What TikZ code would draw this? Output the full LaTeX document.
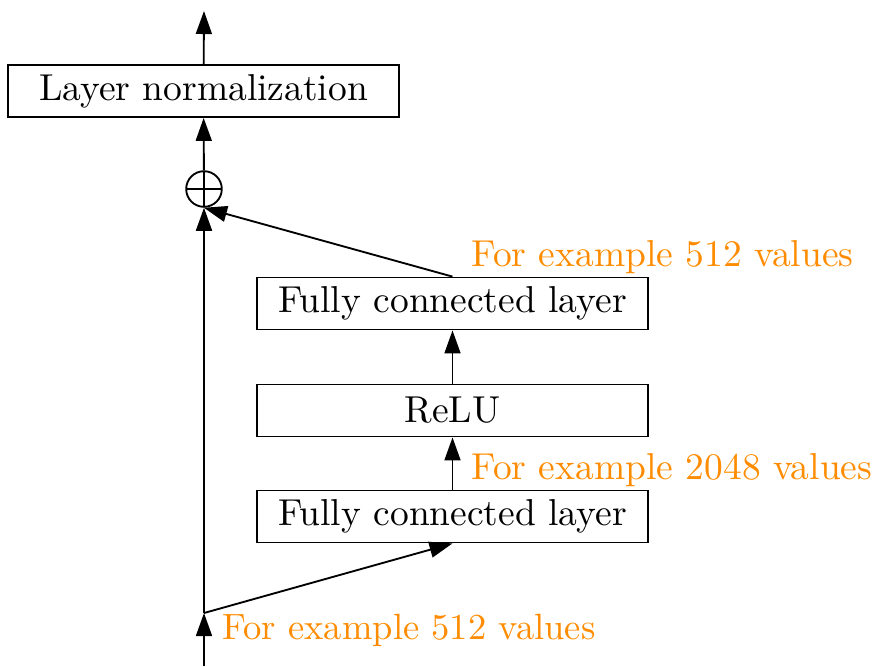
\documentclass[tikz,border=0pt]{standalone}
\usetikzlibrary{arrows.meta}
\definecolor{lblorange}{RGB}{255,140,0}
\begin{document}
\begin{tikzpicture}[x=0.2695pt,y=-0.2695pt,
  font=\fontsize{10.1pt}{12pt}\selectfont,
  box/.style={draw,line width=0.5pt,minimum width=105.4pt,minimum height=14pt,inner sep=0pt},
  conn/.style={line width=0.5pt,-{Triangle[length=6.2pt,width=4.3pt]}},
  lbl/.style={text=lblorange,inner sep=0pt,anchor=base west},
  addnode/.style={circle,draw,line width=0.5pt,minimum size=9.6pt,inner sep=0pt,
    path picture={\draw[line width=0.5pt] (path picture bounding box.north) -- (path picture bounding box.south)
      (path picture bounding box.west) -- (path picture bounding box.east);}}]
\useasboundingbox (0,0) rectangle (875,666);
\node[box] (ln) at (203.5,91) {Layer normalization};
\node[addnode] (add) at (204,189) {};
\node[box] (fc2) at (452.5,303.5) {Fully connected layer};
\node[box] (relu) at (452.5,410.5) {ReLU};
\node[box] (fc1) at (452.5,516.5) {Fully connected layer};
\coordinate (in) at (204,666);
\coordinate (split) at (204,613);
\coordinate (out) at (204,11);
\draw[conn] (in) -- (split);
\draw[conn] (split) -- (add.south);
\draw[conn] (split) -- (fc1.south);
\draw[conn] (fc1) -- (relu);
\draw[conn] (relu) -- (fc2);
\draw[conn] (fc2.north) -- (add.south);
\draw[conn] (add) -- (ln);
\draw[conn] (ln) -- (out);
\node[lbl] (l1) at (471,266) {For example 512 values};
\node[lbl] (l2) at (471,479) {For example 2048 values};
\node[lbl,font=\fontsize{9.86pt}{12pt}\selectfont] (l3) at (222,639) {For example 512 values};
\end{tikzpicture}
\end{document}
